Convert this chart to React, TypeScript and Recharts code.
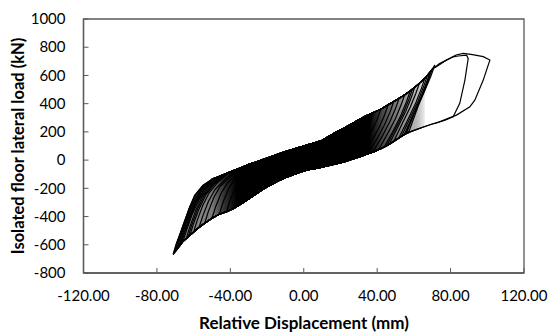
import React from 'react';
import { ComposedChart, Line, Area, XAxis, YAxis, ReferenceArea, Label } from 'recharts';

type Pt = [number, number];

// axis ticks
const xTicks = [-120, -80, -40, 0, 40, 80, 120];
const yTicks = [-800, -600, -400, -200, 0, 200, 400, 600, 800, 1000];

// envelope of the dense band (mm, kN)
const bandX = [-71, -66, -62, -58, -54, -50, -46, -42, -38, -34, -30, -26, -22, -18, -14, -10, -6, -2, 2, 6, 10, 14, 18, 22, 26, 30, 34, 38, 42, 46, 50, 54, 58, 62, 66, 70];
const bandLo = [-669, -579, -532, -486, -448, -412, -384, -366, -341, -310, -275, -240, -205, -176, -148, -125, -105, -85, -70, -60, -50, -38, -26, -12, 4, 20, 40, 58, 80, 108, 140, 175, 200, 220, 238, 256];
const bandHi = [-669, -480, -328, -228, -170, -134, -114, -94, -73, -52, -30, -13, 6, 24, 42, 60, 76, 92, 108, 122, 140, 170, 200, 228, 255, 285, 314, 337, 361, 392, 423, 455, 490, 533, 580, 645];

// each cycle: unloading from the negative peak, and from the positive peak
const cycles: { neg: Pt[]; pos: Pt[] }[] = [
  { neg: [[-71.2, -669], [-69.4, -591], [-65.8, -473], [-62.1, -331], [-59.4, -248], [-54.9, -177], [-49.4, -130]],
    pos: [[71.4, 674], [69.4, 600], [66.4, 505], [62.4, 385], [57.4, 205]] },
  { neg: [[-70, -648], [-68, -560], [-65, -452], [-61, -318], [-56, -205], [-51, -150]],
    pos: [[70, 645], [68, 570], [65, 470], [61, 355], [56, 192]] },
  { neg: [[-69.2, -636], [-67.3, -552], [-64.3, -440], [-60.6, -322], [-55.8, -210], [-50.5, -151]],
    pos: [[69.3, 630], [67.3, 556], [64.3, 455], [60.3, 338], [55.4, 186]] },
  { neg: [[-68.5, -624], [-66.5, -540], [-63.5, -430], [-60, -320], [-55.5, -215], [-50, -152]],
    pos: [[68.7, 618], [66.7, 545], [63.7, 440], [59.7, 325], [54.7, 180]] },
  { neg: [[-67.7, -612], [-65.7, -530], [-62.7, -420], [-59.2, -310], [-54.7, -212], [-49.2, -146]],
    pos: [[67.4, 600], [65.4, 525], [62.4, 422], [58.4, 310], [53.4, 172]] },
  { neg: [[-67, -600], [-65, -520], [-62, -410], [-58.5, -300], [-54, -210], [-48.5, -140]],
    pos: [[66, 580], [64, 505], [61, 405], [57, 295], [52, 162]] },
  { neg: [[-65.8, -576], [-63.8, -495], [-60.8, -385], [-57, -280], [-52.5, -196], [-47, -128]],
    pos: [[63, 544], [61, 470], [58, 375], [54, 268], [49, 132]] },
  { neg: [[-64, -555], [-62, -470], [-59, -360], [-55.5, -262], [-51, -185], [-45.5, -122]],
    pos: [[60.5, 517], [58.5, 440], [55.5, 345], [51.5, 240], [46.5, 112]] },
  { neg: [[-63, -543], [-61, -460], [-58, -352], [-54.5, -256], [-50, -180], [-44.5, -117]],
    pos: [[59.2, 503], [57.2, 428], [54.2, 332], [50.2, 228], [45.2, 104]] },
  { neg: [[-62, -532], [-60, -450], [-57, -345], [-53.5, -250], [-49, -175], [-43.5, -112]],
    pos: [[58, 490], [56, 415], [53, 320], [49, 215], [44, 96]] },
  { neg: [[-60, -509], [-58, -425], [-55, -320], [-51.5, -232], [-47, -160], [-41.5, -100]],
    pos: [[55, 463], [53, 390], [50, 295], [46, 195], [41, 78]] },
  { neg: [[-57, -476], [-55, -395], [-52, -295], [-48.5, -210], [-44, -150], [-38.5, -88]],
    pos: [[52, 439], [50, 365], [47, 275], [43, 175], [38, 64]] },
  { neg: [[-54, -448], [-52, -365], [-49, -265], [-45.5, -185], [-41, -130], [-35.5, -68]],
    pos: [[49, 415], [47, 340], [44, 250], [40, 152], [35, 50]] },
  { neg: [[-50, -412], [-48, -330], [-45, -235], [-41.5, -160], [-37, -105], [-31.5, -45]],
    pos: [[46, 392], [44, 318], [41, 230], [37, 135], [32, 33]] },
  { neg: [[-46, -384], [-44, -300], [-41, -205], [-37.5, -130], [-33, -80], [-27.5, -28]],
    pos: [[42, 361], [40, 290], [37, 205], [33, 112], [28, 15]] },
  { neg: [[-42, -366], [-40, -280], [-37, -185], [-33.5, -110], [-29, -55], [-23.5, -5]],
    pos: [[38, 337], [36, 265], [33, 180], [29, 90], [24, -2]] },
  { neg: [[-37, -333], [-35, -250], [-32, -155], [-28.5, -85], [-24, -25], [-18.5, 20]],
    pos: [[34, 314], [32, 245], [29, 165], [25, 75], [20, -18]] },
  { neg: [[-32, -292], [-30, -210], [-27, -120], [-23.5, -50], [-19, 0], [-13.5, 40]],
    pos: [[30, 285], [28, 215], [25, 135], [21, 50], [16, -30]] },
  { neg: [[-26, -240], [-24, -160], [-21, -75], [-17.5, -10], [-13, 30], [-7.5, 65]],
    pos: [[25, 248], [23, 180], [20, 105], [16, 25], [11, -45]] },
  { neg: [[-20, -190], [-18, -115], [-15, -40], [-11.5, 15], [-7, 55], [-1.5, 90]],
    pos: [[20, 214], [18, 150], [15, 75], [11, 0], [6, -58]] },
  // the two large cycles on the right
  { neg: [[-71, -664], [-69, -580], [-66, -470], [-62.5, -345], [-59.5, -258], [-55, -182], [-49.5, -132]],
    pos: [[72.3, 662], [77.8, 709], [81.4, 732], [84.1, 738], [88.7, 744], [89.6, 721], [87.8, 567], [85, 402], [81.4, 307], [77, 283], [72, 262]] },
  { neg: [[-70.5, -655], [-68.5, -570], [-65.5, -455], [-62, -333], [-58.5, -240], [-54, -176], [-49, -131]],
    pos: [[74, 684], [79.6, 721], [83, 745], [86.9, 756], [92, 748], [97.8, 733], [101.4, 709], [97.8, 567], [93.2, 425], [90.5, 378], [83.2, 319], [78, 292], [74, 272]] },
];

function buildLoop(c: { neg: Pt[]; pos: Pt[] }) {
  const xn = c.neg[0][0];
  const lastNeg = c.neg[c.neg.length - 1][0];
  const xp = c.pos[0][0];
  const lastPos = c.pos[c.pos.length - 1][0];
  const up = bandX.map((x, i) => [x, bandHi[i]] as Pt).filter(([x]) => x > lastNeg && x < xp);
  const down = bandX.map((x, i) => [x, bandLo[i]] as Pt).filter(([x]) => x < lastPos && x > xn).reverse();
  return [...c.neg, ...up, ...c.pos, ...down, c.neg[0]].map(([x, y]) => ({ x, y }));
}

const loopData = cycles.map(buildLoop);
// the band where the cycles overlap (shaded, darkest in the middle)
const bandData = bandX
  .map((x, i) => ({ x, band: [bandLo[i], bandHi[i]] }))
  .filter(d => d.x <= 66);

const FONT = 'Lato, "Open Sans", sans-serif';
const AXIS = '#595959';

const YTick = ({ x, y, payload }: any) => (
  <g>
    <line x1={x + 18} x2={x + 23} y1={y} y2={y} stroke={AXIS} strokeWidth={1} />
    <text x={x} y={y} dy="0.35em" textAnchor="end" fontSize={15} fontFamily={FONT} fill="#000">
      {payload.value}
    </text>
  </g>
);

const XTick = ({ x, y, payload }: any) => (
  <g>
    <line x1={x} x2={x} y1={y - 17} y2={y - 22} stroke={AXIS} strokeWidth={1} />
    <text x={x} y={y} dy="0.71em" textAnchor="middle" fontSize={15} fontFamily={FONT} fill="#000">
      {payload.value.toFixed(2)}
    </text>
  </g>
);

const titleStyle = { fontFamily: FONT, fontWeight: 700, fill: '#000' };

const XTitle = () => (
  <text x={304} y={323} dy="0.35em" textAnchor="middle" fontSize={17} style={titleStyle}>
    Relative Displacement (mm)
  </text>
);

const YTitle = () => (
  <text x={18} y={146} dy="0.35em" textAnchor="middle" fontSize={16.5} transform="rotate(-90 18 146)" style={titleStyle}>
    Isolated floor lateral load (kN)
  </text>
);

export default function App() {
  return (
    <div style={{ position: 'absolute', left: 0, top: 0, background: '#fff' }}>
      <ComposedChart width={551} height={334} margin={{ top: 19, right: 27, left: 0, bottom: 0 }}>
        <defs>
          <linearGradient id="bandFill" x1="0" y1="0" x2="1" y2="0">
            <stop offset="0" stopColor="#666" />
            <stop offset="0.066" stopColor="#8c8c8c" />
            <stop offset="0.153" stopColor="#7a7a7a" />
            <stop offset="0.2" stopColor="#333" />
            <stop offset="0.25" stopColor="#000" />
            <stop offset="0.78" stopColor="#000" />
            <stop offset="0.83" stopColor="#444" />
            <stop offset="0.9" stopColor="#888" />
            <stop offset="0.97" stopColor="#bbb" />
            <stop offset="1" stopColor="#eee" />
          </linearGradient>
        </defs>
        <XAxis
          type="number"
          dataKey="x"
          domain={[-120, 120]}
          ticks={xTicks}
          allowDataOverflow
          tickSize={0}
          tickMargin={17}
          tick={<XTick />}
          height={61}
          axisLine={{ stroke: AXIS, strokeWidth: 1.3 }}
          label={<Label content={<XTitle />} />}
        />
        <YAxis
          type="number"
          domain={[-800, 1000]}
          ticks={yTicks}
          allowDataOverflow
          tickSize={0}
          tickMargin={18}
          tick={<YTick />}
          width={83.5}
          axisLine={{ stroke: AXIS, strokeWidth: 1.3 }}
          label={<Label content={<YTitle />} />}
        />
        <ReferenceArea x1={-120} x2={120} y1={-800} y2={1000} fill="none" stroke={AXIS} strokeWidth={1.3} />
        <Area
          data={bandData}
          dataKey="band"
          type="linear"
          fill="url(#bandFill)"
          fillOpacity={1}
          stroke="none"
          isAnimationActive={false}
        />
        {loopData.map((d, i) => (
          <Line
            key={i}
            data={d}
            dataKey="y"
            type="linear"
            stroke="#000"
            strokeWidth={1.2}
            dot={false}
            activeDot={false}
            isAnimationActive={false}
          />
        ))}
      </ComposedChart>
    </div>
  );
}
